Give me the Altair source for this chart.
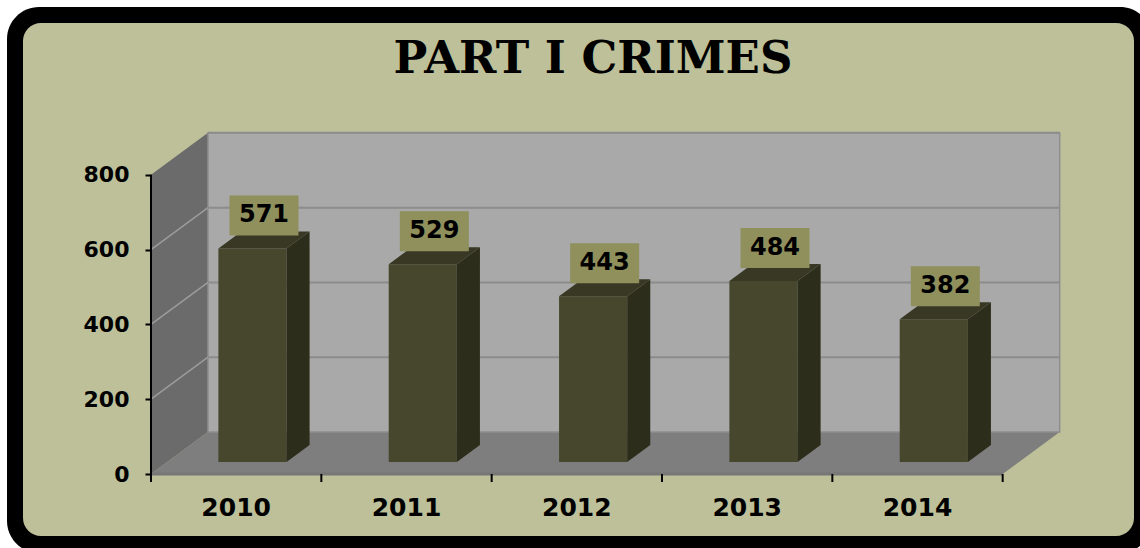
import altair as alt
import pandas as pd

# ---- data ----
years = ["2010", "2011", "2012", "2013", "2014"]
crimes = [571, 529, 443, 484, 382]
y_ticks = [0, 200, 400, 600, 800]
title_text = "PART I CRIMES"

# ---- layout / projection constants ----
W, H = 913, 344
X_MAX, Y_MAX = 5.36, 920
PXX = W / X_MAX
PXY = H / Y_MAX
DX = 57 / PXX          # wall depth (x units)
DY = 42 / PXY          # wall depth (y units)
F0 = 12 / 42           # bar front offset (fraction of depth)
F1 = 17 / 42           # bar depth (fraction of depth)
BAR_W = 0.40
N = len(years)
TICK_DN = 8 / PXY
YTOP = y_ticks[-1]

xs = alt.Scale(domain=[0, X_MAX], nice=False, zero=False)
ys = alt.Scale(domain=[0, Y_MAX], nice=False, zero=False)

Y_AXIS = alt.Axis(values=y_ticks, domain=False, grid=False, title=None, zindex=1,
                  tickColor="black", tickSize=6, tickWidth=2,
                  labelFont="DejaVu Sans", labelFontWeight="bold", labelFontSize=22,
                  labelColor="black", labelPadding=16)


def X(f):
    return alt.X(f, type="quantitative", scale=xs, axis=None)


def Y(f):
    return alt.Y(f, type="quantitative", scale=ys, axis=Y_AXIS)


one = pd.DataFrame({"k": [0]})

frame = alt.Chart(one).mark_rect(color="black", cornerRadius=32).encode(
    x=alt.value(-144), x2=alt.value(1001), y=alt.value(-123), y2=alt.value(423))
panel = alt.Chart(one).mark_rect(color="#BDC099", cornerRadius=18).encode(
    x=alt.value(-128), x2=alt.value(983), y=alt.value(-107), y2=alt.value(406))

# walls
left_df = pd.DataFrame({"x": [0, DX], "y": [YTOP, YTOP + DY], "y2": [0, DY]})
left_wall = alt.Chart(left_df).mark_area(color="#6B6B6B", orient="vertical", opacity=1).encode(
    x=X("x"), y=Y("y"), y2="y2")

floor_df = pd.DataFrame({"x": [0, DX, N, N + DX], "y": [0, DY, DY, DY], "y2": [0, 0, 0, DY]})
floor = alt.Chart(floor_df).mark_area(color="#7E7E7E", orient="vertical", opacity=1).encode(
    x=X("x"), y=Y("y"), y2="y2")

back_df = pd.DataFrame({"x": [DX], "x2": [N + DX], "y": [DY], "y2": [YTOP + DY]})
back_wall = alt.Chart(back_df).mark_rect(color="#A9A9A9", stroke="#8E8E8E", strokeWidth=1.5).encode(
    x=X("x"), x2="x2", y=Y("y"), y2="y2")

grid_df = pd.DataFrame({"v": y_ticks[1:]})
grid_df["x"] = DX
grid_df["x2"] = N + DX
grid_df["y"] = grid_df["v"] + DY
back_grid = alt.Chart(grid_df).mark_rule(color="#8C8C8C", strokeWidth=2).encode(
    x=X("x"), x2="x2", y=Y("y"))

side_df = pd.DataFrame({"v": y_ticks[1:-1]})
side_df["x"] = 0.0
side_df["x2"] = DX
side_df["y"] = side_df["v"]
side_df["y2"] = side_df["v"] + DY
side_grid = alt.Chart(side_df).mark_rule(color="#9C9C9C", strokeWidth=1.5).encode(
    x=X("x"), x2="x2", y=Y("y"), y2="y2")

# bars
front_rows, side_rows, top_rows, box_rows = [], [], [], []
for i, (yr, v) in enumerate(zip(years, crimes)):
    c = i + 0.5 + F0 * DX
    L, R = c - BAR_W / 2, c + BAR_W / 2
    T = v + F0 * DY
    d, e = F1 * DX, F1 * DY
    front_rows.append({"year": yr, "x": L, "x2": R, "y": F0 * DY, "y2": T})
    side_rows += [{"year": yr, "x": R, "y": T, "y2": F0 * DY},
                  {"year": yr, "x": R + d, "y": T + e, "y2": F0 * DY + e}]
    top_rows += [{"year": yr, "x": L, "y": T, "y2": T},
                 {"year": yr, "x": L + d, "y": T + e, "y2": T},
                 {"year": yr, "x": R, "y": T + e, "y2": T},
                 {"year": yr, "x": R + d, "y": T + e, "y2": T + e}]
    cx = c + d / 2
    bb = T + 13 / PXY
    bt = bb + 40 / PXY
    box_rows.append({"year": yr, "val": str(v), "x": cx - 34.5 / PXX, "x2": cx + 34.5 / PXX,
                     "cx": cx, "y": bb, "y2": bt, "cy": (bb + bt) / 2})

front = alt.Chart(pd.DataFrame(front_rows)).mark_rect(color="#46472C").encode(
    x=X("x"), x2="x2", y=Y("y"), y2="y2")
side = alt.Chart(pd.DataFrame(side_rows)).mark_area(color="#2D2D1B", orient="vertical", opacity=1).encode(
    x=X("x"), y=Y("y"), y2="y2", detail="year:N")
top = alt.Chart(pd.DataFrame(top_rows)).mark_area(color="#383824", orient="vertical", opacity=1).encode(
    x=X("x"), y=Y("y"), y2="y2", detail="year:N")

box_df = pd.DataFrame(box_rows)
boxes = alt.Chart(box_df).mark_rect(color="#8F905C").encode(
    x=X("x"), x2="x2", y=Y("y"), y2="y2")
box_text = alt.Chart(box_df).mark_text(
    font="DejaVu Sans", fontWeight="bold", fontSize=24, color="black", baseline="middle", align="center"
).encode(x=X("cx"), y=Y("cy"), text="val:N")

# axes
yaxis_df = pd.DataFrame({"x": [0.0], "y": [-TICK_DN], "y2": [YTOP]})
yaxis = alt.Chart(yaxis_df).mark_rule(color="black", strokeWidth=2).encode(
    x=X("x"), y=Y("y"), y2="y2")

xedge_df = pd.DataFrame({"x": [0.0], "x2": [float(N)], "y": [0.0]})
xedge = alt.Chart(xedge_df).mark_rule(color="#777777", strokeWidth=3).encode(
    x=X("x"), x2="x2", y=Y("y"))

xt_df = pd.DataFrame({"x": [float(i) for i in range(1, N + 1)]})
xt_df["y"] = 0.0
xt_df["y2"] = -TICK_DN
xticks = alt.Chart(xt_df).mark_rule(color="black", strokeWidth=2).encode(
    x=X("x"), y=Y("y"), y2="y2")

xl_df = pd.DataFrame({"year": years, "x": [i + 0.5 for i in range(N)], "y": [0.0] * N})
xlabels = alt.Chart(xl_df).mark_text(
    font="DejaVu Sans", fontWeight="bold", fontSize=25, color="black", baseline="alphabetic",
    align="center", dy=42
).encode(x=X("x"), y=Y("y"), text="year:N")

title = alt.Chart(pd.DataFrame({"t": [title_text]})).mark_text(
    font="DejaVu Serif", fontWeight="bold", fontSize=45, color="black",
    baseline="alphabetic", align="center"
).encode(x=alt.value(442), y=alt.value(-57), text="t:N")

chart = alt.layer(
    frame, panel, left_wall, floor, back_wall, back_grid, side_grid,
    front, side, top, boxes, box_text, xedge, yaxis, xticks, xlabels, title
).properties(
    width=W, height=H,
    autosize=alt.AutoSizeParams(type="none"),
    padding={"left": 151, "top": 130, "right": 1140 - 151 - W, "bottom": 548 - 130 - H},
    background="white",
).configure_view(stroke=None)

chart.save("out.html", embed_options={"renderer": "svg", "actions": False})
